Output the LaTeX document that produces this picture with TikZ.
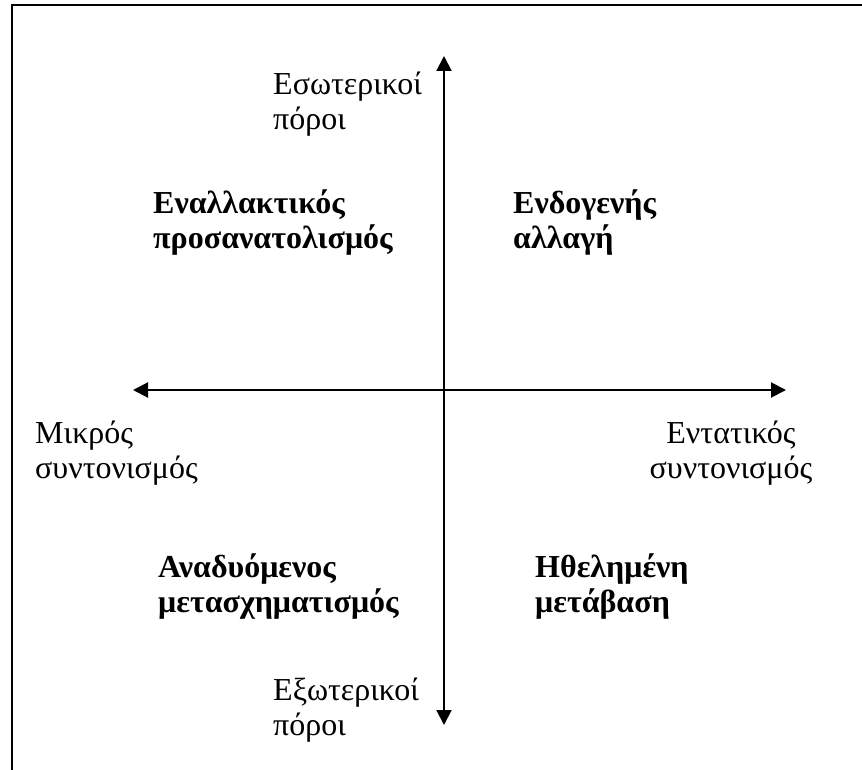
\documentclass[tikz,border=0pt]{standalone}
\usepackage{fontspec}
\setmainfont{Liberation Serif}
\usetikzlibrary{arrows.meta,positioning}

\begin{document}
\begin{tikzpicture}[
        x=1pt, y=-1pt,
        axis/.style={{Triangle[length=15pt,width=15pt]}-{Triangle[length=15pt,width=15pt]}, line width=2pt},
        frame/.style={line width=2pt},
        plain/.style={inner sep=0pt, anchor=base west, align=left, font=\fontsize{32}{35}\selectfont},
        quad/.style={plain, font=\fontsize{32}{35}\selectfont\bfseries}
    ]
        \useasboundingbox (0,0) rectangle (862,770);

        % Frame
        \coordinate (framebl) at (12,770);
        \coordinate (frametl) at (12,5.5);
        \coordinate (frametr) at (862,5.5);
        \draw[frame] (framebl) -- (frametl) -- (frametr);

        % Axes
        \coordinate (north) at (444,56);
        \coordinate (south) at (444,725);
        \coordinate (west) at (133,390);
        \coordinate (east) at (786,390);
        \draw[axis] (south) -- (north);
        \draw[axis] (west) -- (east);

        % Axis labels (base = last line)
        \node[plain] (inner) at (273,130) {Εσωτερικοί\\πόροι};
        \node[plain] (outer) at (273,735) {Εξωτερικοί\\πόροι};
        \node[plain] (weak) at (35,478) {Μικρός\\συντονισμός};
        \node[plain, anchor=base, align=center] (strong) at (731,478) {Εντατικός\\συντονισμός};

        % Quadrants
        \node[quad] (altern) at (153,248) {Εναλλακτικός\\προσανατολισμός};
        \node[quad] (endog) at (513,248) {Ενδογενής\\αλλαγή};
        \node[quad] (emerg) at (158,612) {Αναδυόμενος\\μετασχηματισμός};
        \node[quad] (intend) at (535,612) {Ηθελημένη\\μετάβαση};

    \end{tikzpicture}
\end{document}
